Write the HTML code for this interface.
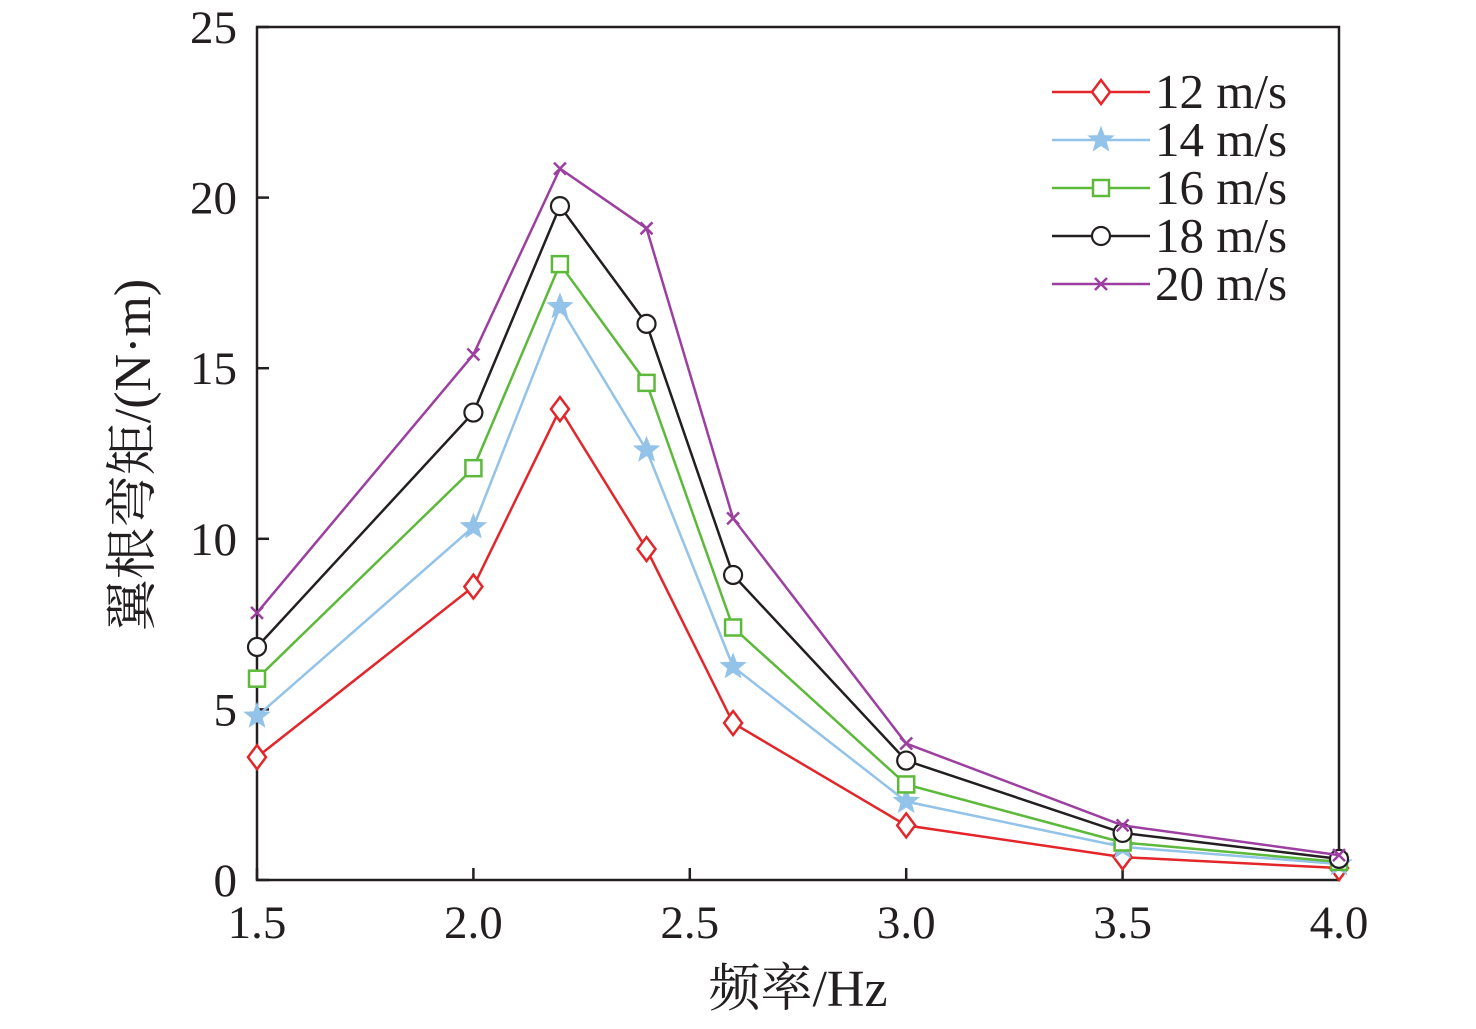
<!DOCTYPE html>
<html><head><meta charset="utf-8"><style>
html,body{margin:0;padding:0;background:#fff;}
svg text{font-family:"Liberation Serif","Noto Serif CJK SC",serif;fill:#231f20;}
</style></head><body>
<svg id="chart" width="1476" height="1024" xmlns="http://www.w3.org/2000/svg"></svg>
<script>
const xValues=[1.5,2.0,2.2,2.4,2.6,3.0,3.5,4.0];
const s12=[3.6,8.6,13.8,9.7,4.6,1.6,0.67,0.35];
const s14=[4.8,10.35,16.8,12.6,6.25,2.3,0.97,0.47];
const s16=[5.9,12.07,18.05,14.57,7.4,2.8,1.1,0.53];
const s18=[6.83,13.7,19.75,16.3,8.94,3.5,1.38,0.62];
const s20=[7.83,15.4,20.85,19.1,10.6,4.0,1.6,0.73];
const seriesNames=["12 m/s","14 m/s","16 m/s","18 m/s","20 m/s"];
const xTicks=[1.5,2.0,2.5,3.0,3.5,4.0];
const xTickLabels=["1.5","2.0","2.5","3.0","3.5","4.0"];
const yTicks=[0,5,10,15,20,25];
const yTickLabels=["0","5","10","15","20","25"];

const L=257,R=1339,T=27,B=880;
const xs=v=>L+(v-1.5)/2.5*(R-L);
const ys=v=>B-v/25*(B-T);
const NS="http://www.w3.org/2000/svg";
const svg=document.getElementById('chart');
function mk(tag,attrs,parent){const e=document.createElementNS(NS,tag);for(const k in attrs)e.setAttribute(k,attrs[k]);(parent||svg).appendChild(e);return e;}

const frame=mk('rect',{x:L,y:T,width:R-L,height:B-T,fill:'none',stroke:'#231f20','stroke-width':2.5});



xTicks.forEach((t,i)=>{
  const x=xs(t);
  const tk=mk('line',{x1:x,x2:x,y1:B,y2:B-12,stroke:'#231f20','stroke-width':2.5});
  
  
  const tx=mk('text',{x:x,y:B+58,'font-size':47,'text-anchor':'middle'});
  tx.textContent=xTickLabels[i];
  
  
});
yTicks.forEach((t,i)=>{
  const y=ys(t);
  const tk=mk('line',{x1:L,x2:L+12,y1:y,y2:y,stroke:'#231f20','stroke-width':2.5});
  
  
  const tx=mk('text',{x:L-20,y:y+16,'font-size':47,'text-anchor':'end'});
  tx.textContent=yTickLabels[i];
  
  
});
const xt=mk('text',{x:798,y:1006,'font-size':52,'text-anchor':'middle'});
xt.textContent='频率/Hz';


const yt=mk('text',{x:0,y:0,'font-size':52,'text-anchor':'middle',transform:'translate(150,455) rotate(-90)'});
yt.textContent='翼根弯矩/(N·m)';



const colors=['#e3262a','#93c3e8','#5cb93a','#231f20','#9c3fa0'];
const data=[s12,s14,s16,s18,s20];
const markers=['diamond','star','square','circle','cross'];
function marker(type,x,y,c,g){
  let e;
  if(type==='diamond')e=mk('path',{d:`M${x} ${y-12}L${x+9} ${y}L${x} ${y+12}L${x-9} ${y}Z`,fill:'#fff',stroke:c,'stroke-width':2.5},g);
  else if(type==='square')e=mk('rect',{x:x-8,y:y-8,width:16,height:16,fill:'#fff',stroke:c,'stroke-width':2.5},g);
  else if(type==='circle')e=mk('circle',{cx:x,cy:y,r:9,fill:'#fff',stroke:c,'stroke-width':2.2},g);
  else if(type==='cross')e=mk('path',{d:`M${x-6} ${y-6}L${x+6} ${y+6}M${x+6} ${y-6}L${x-6} ${y+6}`,stroke:c,'stroke-width':2.5},g);
  else{let p='';for(let k=0;k<10;k++){const a=-Math.PI/2+k*Math.PI/5,r=k%2?5.5:13;p+=(k?'L':'M')+(x+r*Math.cos(a)).toFixed(1)+' '+(y+r*Math.sin(a)).toFixed(1);}
    e=mk('path',{d:p+'Z',fill:c,stroke:c,'stroke-width':1},g);}
  
  
}
data.forEach((arr,si)=>{
  const g=mk('g',{});
  
  
  const pts=arr.map((v,i)=>xs(xValues[i])+','+ys(v)).join(' ');
  const pl=mk('polyline',{points:pts,fill:'none',stroke:colors[si],'stroke-width':2.5},g);
  
  
  arr.forEach((v,i)=>marker(markers[si],xs(xValues[i]),ys(v),colors[si],g));
  const ly=92+si*48;
  const lg=mk('g',{});
  
  
  mk('line',{x1:1052,x2:1150,y1:ly,y2:ly,stroke:colors[si],'stroke-width':2.5},lg);
  marker(markers[si],1101,ly,colors[si],lg);
  const t=mk('text',{x:1155,y:ly+16,'font-size':49},lg);
  t.textContent=seriesNames[si];
});
</script>
</body></html>
